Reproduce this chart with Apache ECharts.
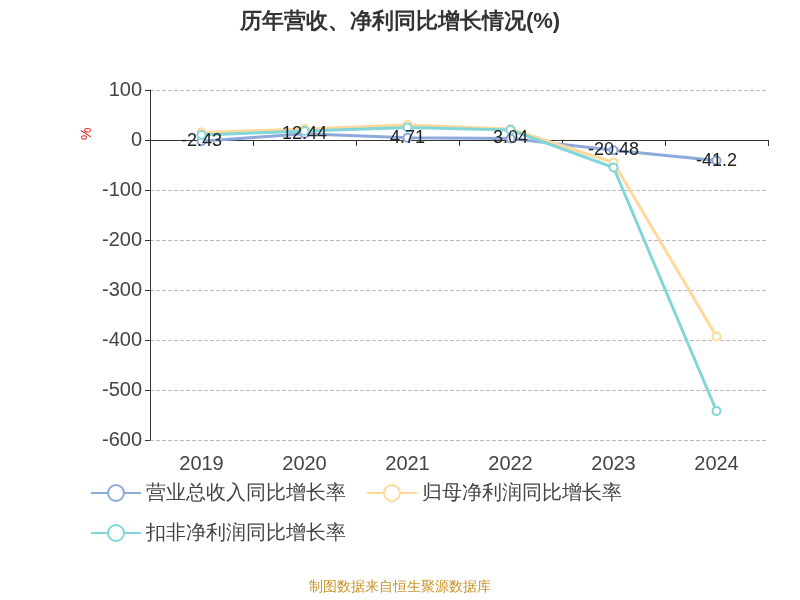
<!DOCTYPE html>
<html><head><meta charset="utf-8">
<script src="https://cdn.jsdelivr.net/npm/echarts@6/dist/echarts.min.js"></script>
</head><body style="margin:0">
<div id="c" style="width:800px;height:600px"></div>
<script>
const years=['2019','2020','2021','2022','2023','2024'];
const revenue=[-2.43,12.44,4.71,3.04,-20.48,-41.2];
const netProfit=[15,22,30,22,-45,-393];
const deducted=[10,18,25,20,-55,-542];
const yTicks={min:-600,max:100,interval:100};
const ch=echarts.init(document.getElementById('c'));
const ser=(name,data,color,label)=>({name,type:'line',data,xAxisIndex:0,symbol:'emptyCircle',symbolSize:8,
 lineStyle:{width:3,color},itemStyle:{color},
 label:label?{show:true,position:'inside',fontSize:18,color:'#222'}:{show:false}});
ch.setOption({
 title:{text:'历年营收、净利同比增长情况(%)',left:'center',top:6,textStyle:{fontSize:22,fontWeight:'bold',color:'#333'}},
 grid:{left:150,right:32,top:90,bottom:160,outerBoundsMode:'none',containLabel:false},
 legend:{left:85,top:478,width:660,itemWidth:50,itemHeight:20,itemGap:20,textStyle:{fontSize:20,color:'#444'},
   data:['营业总收入同比增长率','归母净利润同比增长率','扣非净利润同比增长率']},
 graphic:[{type:'text',left:'center',top:580,style:{text:'制图数据来自恒生聚源数据库',fill:'#c8962a',fontSize:14}},
   {type:'text',x:80,y:140,rotation:Math.PI/2,style:{text:'%',fill:'#e02020',fontSize:14}}],
 xAxis:[{type:'category',data:years,axisLine:{onZero:true,lineStyle:{color:'#333'}},axisTick:{show:true,length:6},axisLabel:{show:false}},
  {type:'category',data:years,position:'bottom',axisLine:{show:false},axisTick:{show:false},axisLabel:{fontSize:20,color:'#444',margin:14}}],
 yAxis:{type:'value',...yTicks,
   axisLine:{show:true,lineStyle:{color:'#333'}},axisTick:{show:true},
   axisLabel:{fontSize:20,color:'#444'},splitLine:{lineStyle:{type:'dashed',color:'#bbb'}}},
 series:[ser('营业总收入同比增长率',revenue,'#8eaadb',true),ser('归母净利润同比增长率',netProfit,'#ffd99a',false),ser('扣非净利润同比增长率',deducted,'#82d5d8',false)]
});
</script></body></html>
